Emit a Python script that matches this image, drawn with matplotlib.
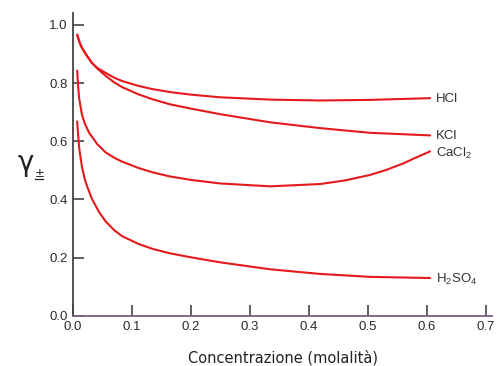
import matplotlib
matplotlib.use("Agg")
import matplotlib.pyplot as plt
from matplotlib.lines import Line2D

plt.rcParams['font.family'] = ['Liberation Sans', 'DejaVu Sans']
plt.rcParams['mathtext.fontset'] = 'custom'
plt.rcParams['mathtext.rm'] = 'Liberation Sans'
plt.rcParams['mathtext.it'] = 'Liberation Sans:italic'

# Data
hcl_x = [0.007, 0.011, 0.015, 0.024, 0.032, 0.041, 0.055, 0.07, 0.083, 0.111, 0.135, 0.164, 0.2, 0.249, 0.334, 0.419, 0.503, 0.605]
hcl_y = [0.966, 0.940, 0.921, 0.892, 0.869, 0.852, 0.835, 0.818, 0.807, 0.790, 0.779, 0.769, 0.760, 0.751, 0.743, 0.740, 0.742, 0.748]

kcl_x = [0.007, 0.011, 0.015, 0.024, 0.032, 0.041, 0.055, 0.07, 0.083, 0.111, 0.135, 0.164, 0.2, 0.249, 0.334, 0.419, 0.503, 0.605]
kcl_y = [0.966, 0.940, 0.921, 0.892, 0.869, 0.850, 0.825, 0.802, 0.786, 0.761, 0.744, 0.727, 0.712, 0.693, 0.665, 0.645, 0.629, 0.620]

cacl2_x = [0.007, 0.0085, 0.0105, 0.015, 0.02, 0.027, 0.041, 0.055, 0.07, 0.083, 0.111, 0.135, 0.164, 0.2, 0.249, 0.334, 0.419, 0.46, 0.503, 0.53, 0.56, 0.58, 0.605]
cacl2_y = [0.843, 0.790, 0.745, 0.692, 0.660, 0.630, 0.590, 0.562, 0.543, 0.530, 0.508, 0.493, 0.479, 0.467, 0.455, 0.445, 0.453, 0.465, 0.484, 0.501, 0.524, 0.543, 0.565]

h2so4_x = [0.007, 0.0085, 0.0105, 0.015, 0.02, 0.024, 0.032, 0.044, 0.055, 0.07, 0.083, 0.111, 0.135, 0.164, 0.2, 0.249, 0.334, 0.419, 0.503, 0.605]
h2so4_y = [0.668, 0.625, 0.575, 0.513, 0.468, 0.444, 0.402, 0.357, 0.325, 0.294, 0.274, 0.247, 0.230, 0.215, 0.201, 0.184, 0.160, 0.144, 0.134, 0.130]

labels = ['HCl', 'KCl', r'CaCl$_\mathregular{2}$', r'H$_\mathregular{2}$SO$_\mathregular{4}$']
label_y = [0.746, 0.619, 0.558, 0.124]

x_ticks = [0.0, 0.1, 0.2, 0.3, 0.4, 0.5, 0.6, 0.7]
y_ticks = [0.0, 0.2, 0.4, 0.6, 0.8, 1.0]

fig = plt.figure(figsize=(4.97, 3.66), dpi=100)
ax = fig.add_axes([0.147, 0.137, 0.843, 0.827])

red = '#e3191c'
for xs, ys in [(hcl_x, hcl_y), (kcl_x, kcl_y), (cacl2_x, cacl2_y), (h2so4_x, h2so4_y)]:
    ax.plot(xs, ys, color=red, lw=1.5, solid_capstyle='round', solid_joinstyle='round')

for lab, ly in zip(labels, label_y):
    ax.text(0.615, ly, lab, fontsize=9.5, color='#333333', ha='left', va='center')

ax.set_xlim(0, 0.71)
ax.set_ylim(0, 1.04)
ax.set_xticks(x_ticks)
ax.set_yticks(y_ticks)
ax.set_xticklabels([f'{t:.1f}' for t in x_ticks])
ax.set_yticklabels([f'{t:.1f}' for t in y_ticks])
ax.tick_params(direction='in', length=8, width=1.2, colors='#444444',
               labelcolor='#2a2a2a', labelsize=9.5, pad=4)
for s in ['top', 'right']:
    ax.spines[s].set_visible(False)
ax.spines['left'].set_color('#444444')
ax.spines['left'].set_linewidth(1.3)
ax.spines['bottom'].set_color('#7a5f86')
ax.spines['bottom'].set_linewidth(1.3)

ax.set_xlabel('Concentrazione (molalità)', fontsize=10.5, family='DejaVu Sans',
              color='#222222', labelpad=12)

fig.text(0.036, 0.555, 'γ', fontsize=20, color='#222222', family='DejaVu Sans', ha='left', va='center')
fig.text(0.070, 0.527, '±', fontsize=8.5, color='#222222', family='DejaVu Sans', ha='left', va='center')
fig.add_artist(Line2D([0.070, 0.086], [0.512, 0.512], transform=fig.transFigure,
                      color='#222222', lw=0.9))

fig.savefig('out.png', dpi=100)
